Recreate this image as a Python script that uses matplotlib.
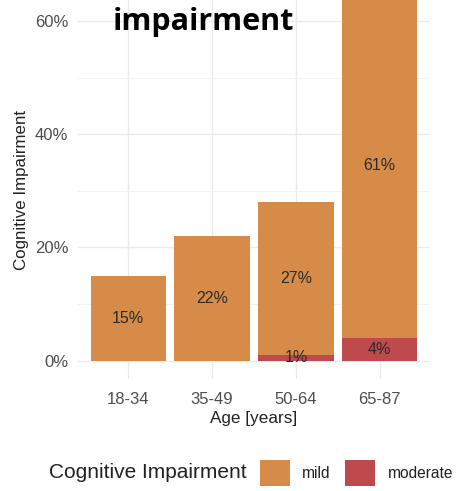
import numpy as np
import matplotlib.pyplot as plt
from matplotlib.patches import Rectangle

plt.rcParams['font.family'] = ['Liberation Sans', 'DejaVu Sans']

# share of participants with cognitive impairment per age group [%]
age_groups = ['18-34', '35-49', '50-64', '65-87']
moderate = [0, 0, 1, 4]
mild = [15, 22, 27, 61]
legend_labels = ['mild', 'moderate']

col_mild = '#D68C48'
col_moderate = '#BE4A4E'
grid_col = '#EBEBEB'
tick_col = '#4D4D4D'

W, H = 457, 491
fig = plt.figure(figsize=(W / 100, H / 100), dpi=100)
ax = fig.add_axes([78 / W, 1 - 379 / H, 352 / W, 379 / H])

x = np.arange(len(age_groups))
moderate = np.array(moderate, dtype=float)
mild = np.array(mild, dtype=float)

# stacked bars, moderate at the bottom
ax.bar(x, moderate, width=0.9, color=col_moderate, zorder=2)
ax.bar(x, mild, width=0.9, bottom=moderate, color=col_mild, zorder=2)

# value labels in the middle of each segment
for i in range(len(x)):
    if mild[i] > 0:
        ax.text(x[i], moderate[i] + mild[i] / 2, f'{mild[i]:.0f}%',
                ha='center', va='center', fontsize=11.5, color='#2A2A2A', zorder=3)
    if moderate[i] > 0:
        ax.text(x[i], moderate[i] / 2, f'{moderate[i]:.0f}%',
                ha='center', va='center', fontsize=11.5, color='#2A2A2A', zorder=3)

# theme_minimal-like cosmetics
ax.set_xlim(-0.6, len(x) - 0.4)
ax.set_ylim(-3.25, 63.7)
ax.set_yticks([0, 20, 40, 60])
ax.set_yticklabels(['0%', '20%', '40%', '60%'])
ax.set_yticks([10, 30, 50], minor=True)
ax.set_xticks(x)
ax.set_xticklabels(age_groups)
ax.grid(True, which='major', color=grid_col, linewidth=1.0, zorder=0)
ax.grid(True, which='minor', axis='y', color='#F3F3F3', linewidth=0.7, zorder=0)
ax.set_axisbelow(True)
for s in ax.spines.values():
    s.set_visible(False)
ax.tick_params(which='both', length=0, labelsize=12, labelcolor=tick_col)
ax.tick_params(axis='x', pad=9)
ax.tick_params(axis='y', pad=7)
ax.set_xlabel('Age [years]', fontsize=12.3, color='#222222', labelpad=3)
ax.set_ylabel('Cognitive Impairment', fontsize=12.2, color='#222222', labelpad=4)

# title, only the second line is visible
fig.text(203 / W, 1 - 22 / H, 'impairment', ha='center', va='center',
         fontsize=22, fontweight='bold', family='Open Sans', color='black')

# legend at the bottom, drawn by hand in figure pixels
ly = 1 - 473 / H
fig.text(247 / W, ly, 'Cognitive Impairment', ha='right', va='center',
         fontsize=15, color='#222222')
for x0, lx, lab, col in zip([260, 345], [302, 388], legend_labels,
                            [col_mild, col_moderate]):
    fig.patches.append(Rectangle((x0 / W, 1 - 486 / H), 30 / W, 26 / H,
                                 transform=fig.transFigure, facecolor=col,
                                 edgecolor='none'))
    fig.text(lx / W, ly, lab, ha='left', va='center', fontsize=11.2,
             color='#222222')

fig.savefig('out.png', dpi=100)
